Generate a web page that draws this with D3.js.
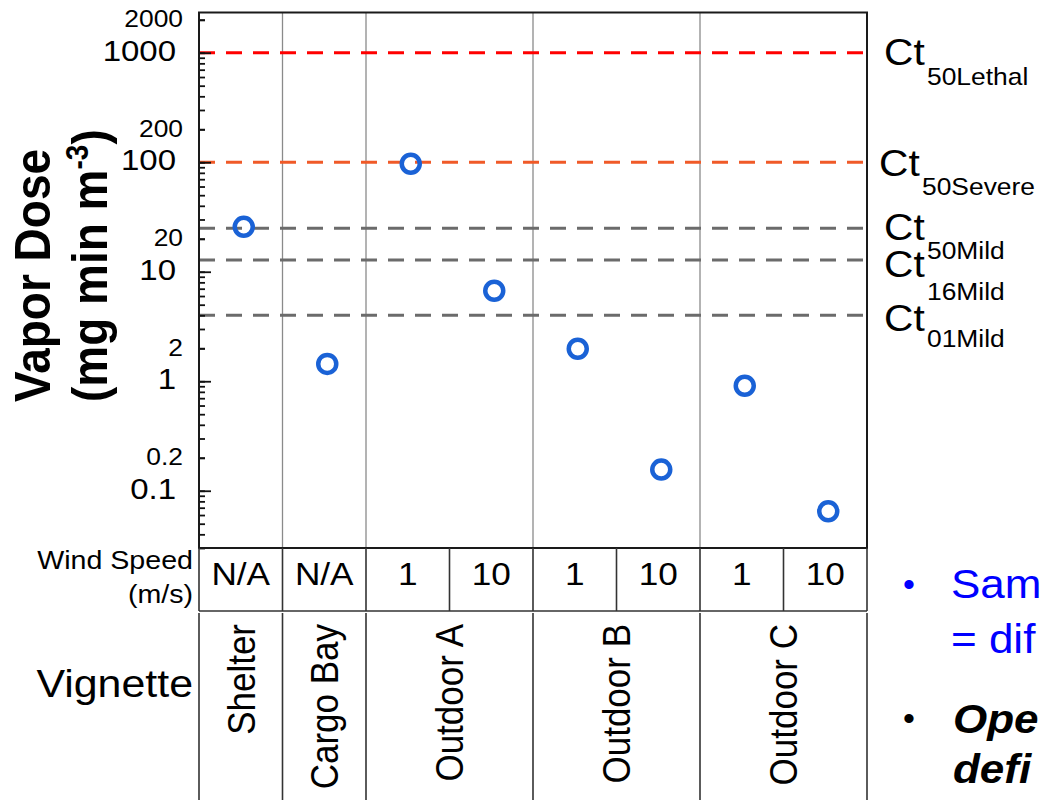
<!DOCTYPE html>
<html>
<head>
<meta charset="utf-8">
<script src="https://cdn.jsdelivr.net/npm/d3@7"></script>
<style>
html, body { margin: 0; padding: 0; overflow: hidden; background: #fff; }
svg text { font-family: "Liberation Sans", Arial, sans-serif; fill: #000; }
</style>
</head>
<body>
<div id="chart"></div>
<script>
// data
const windSpeeds = ["N/A", "N/A", "1", "10", "1", "10", "1", "10"];
const doses = [25.7, 1.44, 97, 6.7, 1.98, 0.156, 0.91, 0.065];
const vignettes = ["Shelter", "Cargo Bay", "Outdoor A", "Outdoor B", "Outdoor C"];
const vignetteSpans = [1, 1, 2, 2, 2];
const thresholdNames = ["50Lethal", "50Severe", "50Mild", "16Mild", "01Mild"];
const thresholdValues = [1000, 100, 25, 12.8, 4];
const thresholdColors = ["#ff0000", "#f05a28", "#6b6b6b", "#6b6b6b", "#6b6b6b"];
const majorTicks = [0.1, 1, 10, 100, 1000];
const labelTicks = [0.2, 2, 20, 200, 2000];

// label nudges as in the slide
const ctX = [884, 879, 884, 884, 884];
const ctDy = [12, 14, 12, 17, 16];
const subDy = [32, 33, 31, 40, 32];

let W = 1043, H = 800;
let SX = 1.1; // picture looks a bit stretched sideways
let pLeft = 199, pRight = 867, pTop = 12.5, pBottom = 548;

let svg = d3.select('#chart').append('svg')
    .attr('width', W)
    .attr('height', H);

let x = d3.scaleBand().domain(d3.range(windSpeeds.length)).range([pLeft, pRight]);
let y = d3.scaleLog().domain([0.03, 2330]).range([pBottom, pTop]);
let edge = i => i < windSpeeds.length ? x(i) : pRight;

// group boundaries from spans
let bounds = [0];
vignetteSpans.forEach(s => bounds.push(bounds[bounds.length - 1] + s));

// grey separators inside the plot
svg.selectAll('line.sep')
    .data(bounds.slice(1, -1))
    .enter()
    .append('line')
    .attr('x1', d => edge(d)).attr('x2', d => edge(d))
    .attr('y1', pTop).attr('y2', pBottom)
    .attr('stroke', '#8a8a8a')
    .attr('stroke-width', 1.3);

// threshold lines
svg.selectAll('line.th')
    .data(thresholdValues)
    .enter()
    .append('line')
    .attr('x1', pLeft).attr('x2', pRight)
    .attr('y1', d => y(d)).attr('y2', d => y(d))
    .attr('stroke', (d, i) => thresholdColors[i])
    .attr('stroke-width', 3)
    .attr('stroke-dasharray', '16,11');

// axis ticks (inside)
let minorAxis = d3.axisLeft(y).tickValues(y.ticks()).tickSizeInner(-6).tickSizeOuter(0).tickFormat('');
let gMinor = svg.append('g').attr('transform', `translate(${pLeft},0)`).call(minorAxis);

let labAxis = d3.axisLeft(y).tickValues(labelTicks).tickSizeInner(-6).tickSizeOuter(0)
    .tickPadding(16).tickFormat(d => String(d));
let gLab = svg.append('g').attr('transform', `translate(${pLeft},0)`).call(labAxis);
gLab.selectAll('text').style('font-size', '24px').attr('dy', '0.29em')
    .attr('x', -16 / SX).attr('transform', `scale(${SX},1)`);

let majAxis = d3.axisLeft(y).tickValues(majorTicks).tickSizeInner(-12).tickSizeOuter(0)
    .tickPadding(23).tickFormat(d => String(d));
let gMaj = svg.append('g').attr('transform', `translate(${pLeft},0)`).call(majAxis);
gMaj.selectAll('text').style('font-size', '30px').attr('dy', '0.25em')
    .attr('x', -23 / SX).attr('transform', `scale(${SX},1)`);

svg.selectAll('.domain').remove();
svg.selectAll('.tick line').attr('stroke', '#111').attr('stroke-width', 1.8);

// frame
svg.append('rect')
    .attr('x', pLeft).attr('y', pTop)
    .attr('width', pRight - pLeft).attr('height', pBottom - pTop)
    .attr('fill', 'none')
    .attr('stroke', '#1a1a1a')
    .attr('stroke-width', 2);

// points
svg.selectAll('circle')
    .data(doses)
    .enter()
    .append('circle')
    .attr('cx', (d, i) => x(i) + x.bandwidth() / 2 + 3)
    .attr('cy', d => y(d))
    .attr('r', 9)
    .attr('fill', 'none')
    .attr('stroke', '#1a62d6')
    .attr('stroke-width', 4.5);

// right labels: "Ct" and its subscript as separate texts
svg.selectAll('text.ct')
    .data(thresholdValues)
    .enter()
    .append('text')
    .attr('class', 'ct')
    .attr('transform', (d, i) => `translate(${ctX[i]},${y(d) + ctDy[i]}) scale(${SX},1)`)
    .style('font-size', '37px')
    .text('Ct');
svg.selectAll('text.ctsub')
    .data(thresholdNames)
    .enter()
    .append('text')
    .attr('class', 'ctsub')
    .attr('transform', (d, i) => `translate(${ctX[i] + 43},${y(thresholdValues[i]) + subDy[i]}) scale(${SX},1)`)
    .style('font-size', '24px')
    .text(d => d);

// y title
let title = svg.append('g');
title.append('text')
    .attr('transform', `translate(50,402) scale(${SX},1) rotate(-90)`)
    .style('font-size', '46px')
    .style('font-weight', 'bold')
    .text('Vapor Dose');
let t2 = title.append('text')
    .attr('transform', `translate(107,402) scale(${SX},1) rotate(-90)`)
    .style('font-size', '46px')
    .style('font-weight', 'bold');
t2.append('tspan').text('(mg min m');
t2.append('tspan').attr('dy', -17).style('font-size', '28px').text('-3');
t2.append('tspan').attr('dy', 17).text(')');

// wind speed row
let rowTop = pBottom, rowBot = 611, vigTop = 613;
svg.append('line').attr('x1', pLeft).attr('x2', pRight).attr('y1', rowBot).attr('y2', rowBot)
    .attr('stroke', '#333').attr('stroke-width', 1.6);
svg.selectAll('line.ws')
    .data(d3.range(windSpeeds.length + 1))
    .enter()
    .append('line')
    .attr('x1', d => edge(d)).attr('x2', d => edge(d))
    .attr('y1', rowTop).attr('y2', rowBot)
    .attr('stroke', '#333').attr('stroke-width', 1.6);
svg.selectAll('text.ws')
    .data(windSpeeds)
    .enter()
    .append('text')
    .attr('transform', (d, i) => `translate(${x(i) + x.bandwidth() / 2},585) scale(${SX},1)`)
    .attr('text-anchor', 'middle')
    .style('font-size', '32px')
    .text(d => d);

svg.append('text').attr('transform', `translate(193,569) scale(${SX},1)`)
    .attr('text-anchor', 'end').style('font-size', '26px').text('Wind Speed');
svg.append('text').attr('transform', `translate(193,603) scale(${SX},1)`)
    .attr('text-anchor', 'end').style('font-size', '26px').text('(m/s)');

// vignette row
svg.selectAll('line.vg')
    .data(bounds)
    .enter()
    .append('line')
    .attr('x1', d => edge(d)).attr('x2', d => edge(d))
    .attr('y1', vigTop).attr('y2', H)
    .attr('stroke', '#333').attr('stroke-width', 1.6);
svg.selectAll('text.vg')
    .data(vignettes)
    .enter()
    .append('text')
    .attr('transform', (d, i) => `translate(${(edge(bounds[i]) + edge(bounds[i + 1])) / 2},624) scale(${SX},1) rotate(-90)`)
    .attr('text-anchor', 'end')
    .attr('dy', '0.36em')
    .style('font-size', '35px')
    .text(d => d);
svg.append('text').attr('transform', `translate(193,697) scale(${SX},1)`)
    .attr('text-anchor', 'end').style('font-size', '39px').text('Vignette');

// bullets on the right, cut by the edge
let b1 = svg.append('g');
b1.append('text').attr('x', 903).attr('y', 596).style('font-size', '34px').style('fill', '#0000ff').text('•');
b1.append('text').attr('transform', `translate(951,598) scale(${SX},1)`)
    .style('font-size', '40px').style('fill', '#0000ff').text('Sam');
b1.append('text').attr('transform', `translate(951,653) scale(${SX},1)`)
    .style('font-size', '40px').style('fill', '#0000ff').text('= dif');
b1.append('text').attr('x', 903).attr('y', 730).style('font-size', '34px').text('•');
b1.append('text').attr('transform', `translate(953,733) scale(${SX},1)`)
    .style('font-size', '40px').style('font-weight', 'bold').style('font-style', 'italic').text('Ope');
b1.append('text').attr('transform', `translate(953,783) scale(${SX},1)`)
    .style('font-size', '40px').style('font-weight', 'bold').style('font-style', 'italic').text('defi');
</script>
</body>
</html>
